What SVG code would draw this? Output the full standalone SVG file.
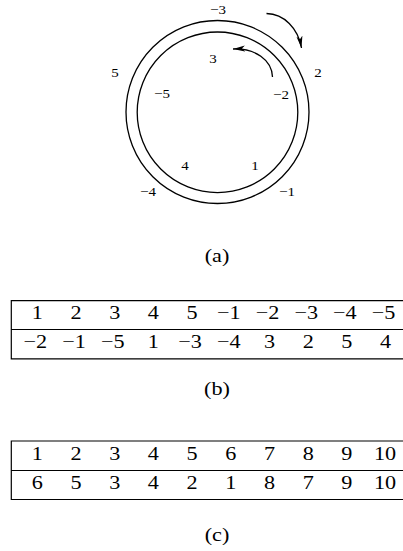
<svg xmlns="http://www.w3.org/2000/svg" width="403" height="551" viewBox="0 0 403 551">
<style>
text{font-family:"Liberation Serif","Times New Roman",serif;fill:#000;text-anchor:middle}
.s{font-size:12.5px}
.t{font-size:18.5px}
.ln{fill:none;stroke:#000;stroke-width:1.3}
.tb{fill:none;stroke:#000;stroke-width:1.2}
</style>
<defs>
<marker id="ah" markerUnits="userSpaceOnUse" markerWidth="14" markerHeight="8" refX="12" refY="0" viewBox="0 -4 14 8" orient="auto">
<path d="M0,-3 L12,0 L0,3 L3,0 z" fill="#000"/>
</marker>
</defs>
<g id="ring">
<circle cx="217.5" cy="112" r="91.5" class="ln"/>
<circle cx="217.5" cy="112.3" r="80.3" class="ln"/>
</g>
<g id="connectors">
<path d="M266.5,13.5 C284,14 298,28 301.5,48" class="ln" marker-end="url(#ah)"/>
<path d="M272.5,77 C272,60 255,48 233,49" class="ln" marker-end="url(#ah)"/>
</g>
<g id="labels-a" transform="scale(1.2,1)">
<text class="s" x="181.67" y="14">−3</text>
<text class="s" x="265" y="77">2</text>
<text class="s" x="95.83" y="77">5</text>
<text class="s" x="177.5" y="63.5">3</text>
<text class="s" x="135" y="98">−5</text>
<text class="s" x="234.17" y="99">−2</text>
<text class="s" x="154.17" y="170">4</text>
<text class="s" x="212.5" y="170">1</text>
<text class="s" x="123.33" y="196">−4</text>
<text class="s" x="239.17" y="196">−1</text>
<text class="t" x="180.83" y="262">(a)</text>
</g>
<g id="table-b">
<path d="M403,300.7 H11.3 V358.8 H403 M11.3,329.5 H403" class="tb"/>
<g transform="scale(1.2,1)">
<text class="t" x="31.08" y="319">1</text>
<text class="t" x="63.33" y="319">2</text>
<text class="t" x="95.58" y="319">3</text>
<text class="t" x="127.83" y="319">4</text>
<text class="t" x="160.08" y="319">5</text>
<text class="t" x="190.67" y="319">−1</text>
<text class="t" x="222.92" y="319">−2</text>
<text class="t" x="255.17" y="319">−3</text>
<text class="t" x="287.42" y="319">−4</text>
<text class="t" x="319.67" y="319">−5</text>
<text class="t" x="29.42" y="348">−2</text>
<text class="t" x="61.67" y="348">−1</text>
<text class="t" x="93.92" y="348">−5</text>
<text class="t" x="127.83" y="348">1</text>
<text class="t" x="158.42" y="348">−3</text>
<text class="t" x="190.67" y="348">−4</text>
<text class="t" x="224.58" y="348">3</text>
<text class="t" x="256.83" y="348">2</text>
<text class="t" x="289.08" y="348">5</text>
<text class="t" x="321.33" y="348">4</text>
<text class="t" x="180.83" y="395">(b)</text>
</g>
</g>
<g id="table-c">
<path d="M403,441 H11.3 V499.5 H403 M11.3,470.5 H403" class="tb"/>
<g transform="scale(1.2,1)">
<text class="t" x="31.08" y="460">1</text>
<text class="t" x="63.33" y="460">2</text>
<text class="t" x="95.58" y="460">3</text>
<text class="t" x="127.83" y="460">4</text>
<text class="t" x="160.08" y="460">5</text>
<text class="t" x="192.33" y="460">6</text>
<text class="t" x="224.58" y="460">7</text>
<text class="t" x="256.83" y="460">8</text>
<text class="t" x="289.08" y="460">9</text>
<text class="t" x="320.83" y="460">10</text>
<text class="t" x="31.08" y="489">6</text>
<text class="t" x="63.33" y="489">5</text>
<text class="t" x="95.58" y="489">3</text>
<text class="t" x="127.83" y="489">4</text>
<text class="t" x="160.08" y="489">2</text>
<text class="t" x="192.33" y="489">1</text>
<text class="t" x="224.58" y="489">8</text>
<text class="t" x="256.83" y="489">7</text>
<text class="t" x="289.08" y="489">9</text>
<text class="t" x="320.83" y="489">10</text>
<text class="t" x="180.83" y="541">(c)</text>
</g>
</g>
</svg>
